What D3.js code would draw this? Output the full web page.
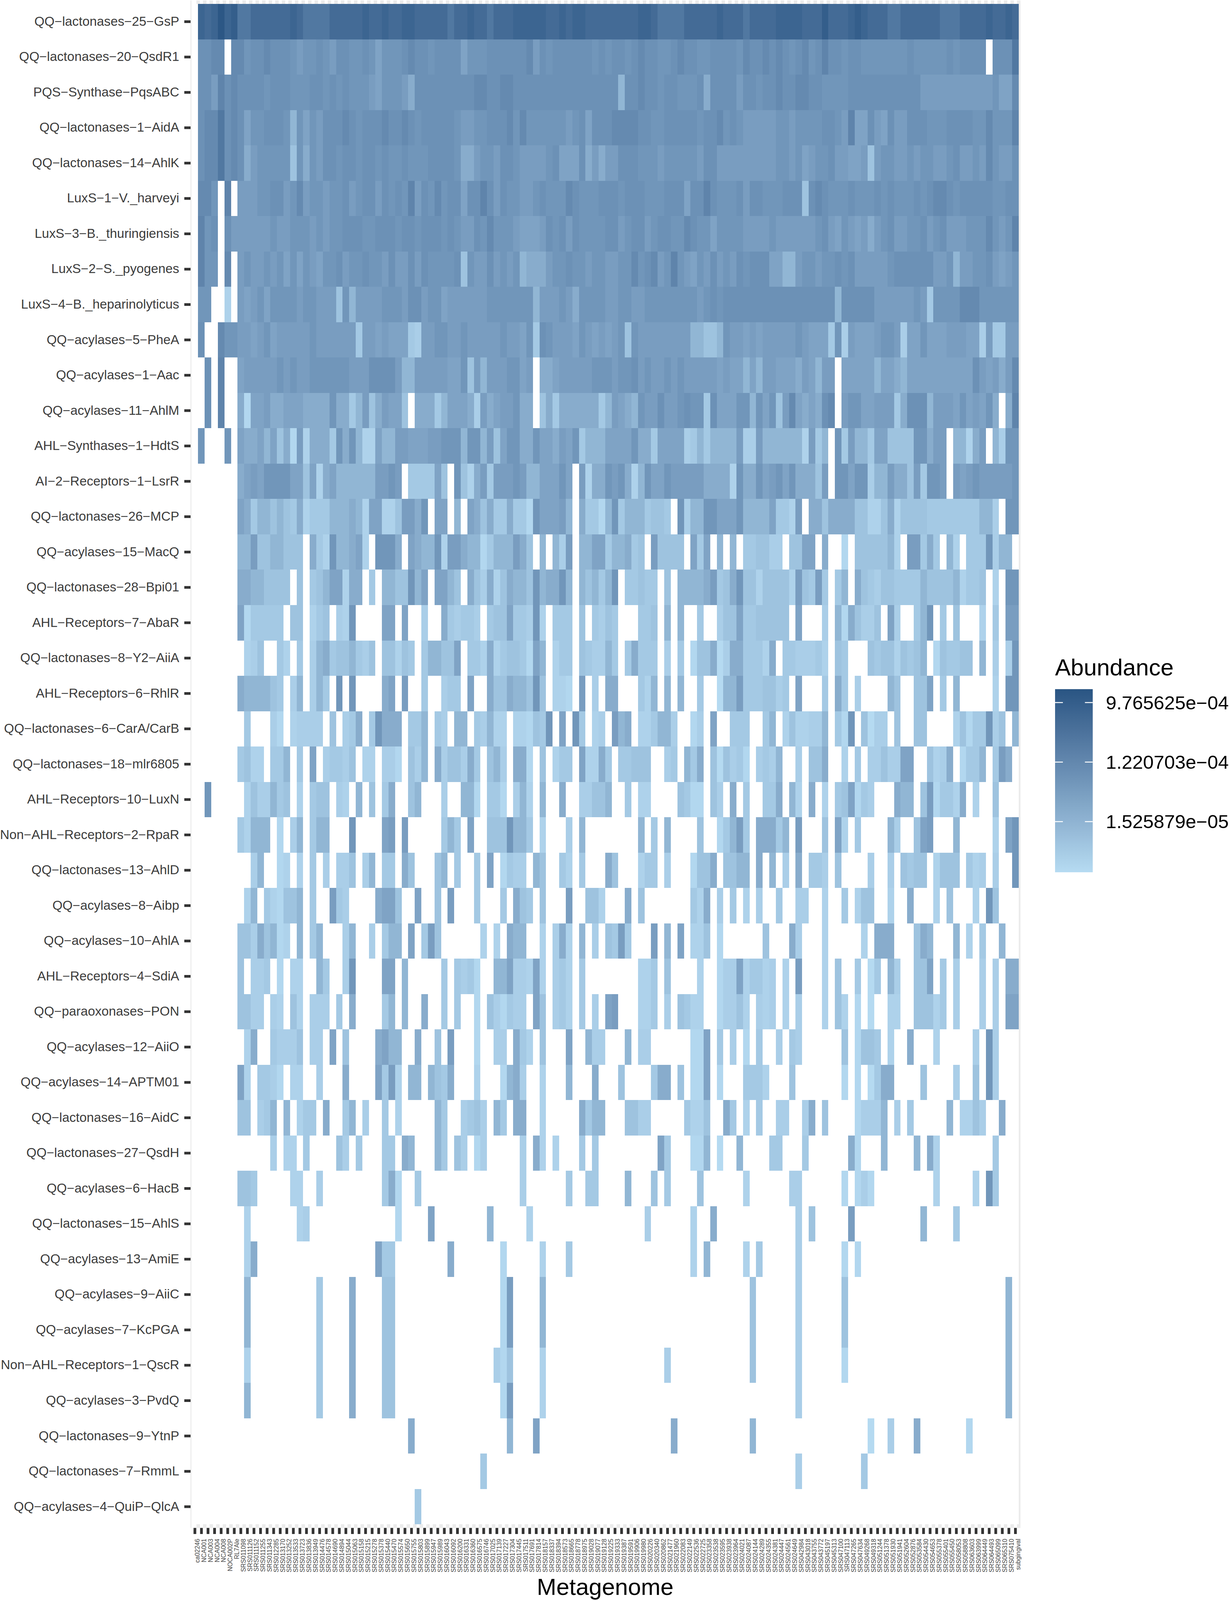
<!DOCTYPE html>
<html>
<head>
<meta charset="utf-8">
<script src="https://cdn.jsdelivr.net/npm/d3@7"></script>
<style>html,body{margin:0;height:100%;overflow:hidden;background:#fff}</style>
</head>
<body>
<div id="chart"></div>
<script>
var rowLabels = ["QQ−lactonases−25−GsP","QQ−lactonases−20−QsdR1","PQS−Synthase−PqsABC","QQ−lactonases−1−AidA","QQ−lactonases−14−AhlK","LuxS−1−V._harveyi","LuxS−3−B._thuringiensis","LuxS−2−S._pyogenes","LuxS−4−B._heparinolyticus","QQ−acylases−5−PheA","QQ−acylases−1−Aac","QQ−acylases−11−AhlM","AHL−Synthases−1−HdtS","AI−2−Receptors−1−LsrR","QQ−lactonases−26−MCP","QQ−acylases−15−MacQ","QQ−lactonases−28−Bpi01","AHL−Receptors−7−AbaR","QQ−lactonases−8−Y2−AiiA","AHL−Receptors−6−RhlR","QQ−lactonases−6−CarA/CarB","QQ−lactonases−18−mlr6805","AHL−Receptors−10−LuxN","Non−AHL−Receptors−2−RpaR","QQ−lactonases−13−AhlD","QQ−acylases−8−Aibp","QQ−acylases−10−AhlA","AHL−Receptors−4−SdiA","QQ−paraoxonases−PON","QQ−acylases−12−AiiO","QQ−acylases−14−APTM01","QQ−lactonases−16−AidC","QQ−lactonases−27−QsdH","QQ−acylases−6−HacB","QQ−lactonases−15−AhlS","QQ−acylases−13−AmiE","QQ−acylases−9−AiiC","QQ−acylases−7−KcPGA","Non−AHL−Receptors−1−QscR","QQ−acylases−3−PvdQ","QQ−lactonases−9−YtnP","QQ−lactonases−7−RmmL","QQ−acylases−4−QuiP−QlcA"];

var sampleLabels = ["ca02246","NCA001","NCA003","NCA004","NCA008","NOCA002P","RL7Ale","SRS011098","SRS011126","SRS011152","SRS011255","SRS011343","SRS012285","SRS013170","SRS013252","SRS013533","SRS013723","SRS013836","SRS013949","SRS014476","SRS014578","SRS014690","SRS014894","SRS015044","SRS015063","SRS015158","SRS015215","SRS015278","SRS015378","SRS015440","SRS015470","SRS015574","SRS015650","SRS015755","SRS015803","SRS015899","SRS015947","SRS015989","SRS016043","SRS016092","SRS016200","SRS016331","SRS016360","SRS016575","SRS016746","SRS017025","SRS017139","SRS017227","SRS017304","SRS017445","SRS017511","SRS017691","SRS017814","SRS018157","SRS018337","SRS018394","SRS018573","SRS018665","SRS018778","SRS018975","SRS019028","SRS019077","SRS019128","SRS019225","SRS019333","SRS019387","SRS019591","SRS019906","SRS019980","SRS020226","SRS020340","SRS020862","SRS021477","SRS021960","SRS022083","SRS022149","SRS022536","SRS022725","SRS023358","SRS023538","SRS023595","SRS023938","SRS023964","SRS024021","SRS024087","SRS024144","SRS024289","SRS024355","SRS024381","SRS024447","SRS024561","SRS024649","SRS042984","SRS043018","SRS043755","SRS043772","SRS045197","SRS045313","SRS047100","SRS047113","SRS047265","SRS047634","SRS049268","SRS049318","SRS051244","SRS051378","SRS051930","SRS051941","SRS052604","SRS052876","SRS053584","SRS054430","SRS054653","SRS055378","SRS055401","SRS055450","SRS058053","SRS058808","SRS063603","SRS063999","SRS064449","SRS064493","SRS065099","SRS065310","SRS075410","subgingival"];

// colour readings per gene and sample, about -2*log2(abundance), 0 = not detected
var levels = [
[0,21,22,21,19,21,20,23,23,22, 22,22,22,22,22,21,22,23,23,23, 23,22,22,22,22,22,21,22,22,21, 22,22,21,21,22,22,22,22,22,23, 22,22,21,22,22,23,22,22,22,21, 21,21,21,21,22,22,21,22,21,21, 22,22,22,22,22,22,22,22,21,21, 22,23,23,23,23,22,22,22,22,22, 21,22,22,22,23,22,22,22,22,21, 21,21,21,22,22,22,20,22,22,22, 21,20,21,22,22,22,23,23,22,22, 22,22,22,22,23,23,23,22,22,22, 22,21,22,22,21,22],
[0,26,26,25,25,0,25,25,27,26, 26,25,26,26,26,27,28,27,27,26, 27,28,26,26,27,27,26,27,29,27, 27,27,26,25,26,26,27,26,26,26, 26,29,27,27,27,26,26,26,26,26, 26,25,28,26,27,26,26,26,26,26, 26,27,26,27,26,26,27,26,25,26, 26,27,27,26,25,26,26,27,27,26, 26,26,26,27,25,26,26,25,26,25, 26,27,26,25,27,26,24,26,26,27, 26,26,27,27,27,27,27,27,27,26, 27,27,27,27,27,26,27,26,26,26, 26,0,26,26,26,23],
[0,26,26,28,24,26,25,26,26,26, 26,27,26,26,26,27,27,27,26,26, 27,26,27,26,27,27,27,28,29,27, 27,27,28,30,26,26,26,26,26,26, 26,26,26,25,25,26,26,25,25,26, 26,26,26,26,26,26,26,26,26,26, 26,26,26,26,26,31,26,26,25,26, 26,27,26,26,27,27,27,26,30,26, 26,26,26,28,26,26,27,26,26,25, 26,26,25,25,26,26,27,27,27,27, 26,26,26,26,26,26,26,26,26,26, 26,28,28,28,28,28,28,28,28,28, 28,28,27,29,29,25],
[0,26,25,25,23,26,25,26,29,27, 27,26,26,26,27,31,27,29,27,28, 26,26,26,25,26,27,26,26,26,25, 26,26,25,26,27,26,26,26,26,26, 27,28,28,27,27,26,26,26,25,27, 25,27,27,27,27,27,27,28,27,26, 29,26,26,26,25,25,25,25,26,26, 27,27,26,26,26,26,26,27,26,26, 25,27,26,27,28,28,28,28,28,27, 27,28,27,27,27,27,26,26,27,28, 24,29,29,26,28,29,26,28,28,26, 26,26,27,27,27,26,26,26,26,27, 27,25,27,27,27,24],
[0,26,25,25,23,26,25,26,30,28, 27,27,27,27,27,32,27,30,27,28, 26,26,27,26,26,27,26,26,27,26, 27,27,26,27,27,27,26,26,26,26, 27,30,30,28,27,27,28,26,26,27, 28,28,28,28,27,26,29,29,29,26, 30,28,30,28,28,26,26,26,27,27, 27,28,27,27,27,27,27,28,26,26, 28,28,28,28,28,28,28,28,28,27, 27,28,27,29,28,27,27,26,28,28, 29,29,28,32,28,27,27,28,28,27, 28,27,27,28,28,27,26,28,28,27, 28,25,27,28,28,26],
[0,25,25,27,0,24,0,28,28,28, 27,27,26,26,28,27,25,28,27,27, 28,27,27,26,28,27,26,26,28,26, 27,26,27,24,28,26,27,25,27,26, 26,29,26,26,24,26,28,26,27,27, 28,28,27,26,27,27,27,25,26,27, 27,27,26,26,26,27,26,26,26,27, 27,27,26,26,26,29,26,26,24,26, 27,27,27,26,28,26,26,27,27,27, 26,26,26,32,26,25,26,27,27,27, 26,27,27,27,26,27,26,27,27,27, 26,27,26,25,25,26,27,26,26,26, 26,26,27,27,26,26],
[0,24,27,26,0,26,28,28,28,28, 28,28,27,28,28,27,27,27,28,27, 28,27,27,26,26,26,27,27,26,26, 26,27,26,26,27,26,26,26,27,26, 27,28,28,26,27,25,27,27,27,28, 29,29,29,28,26,27,26,28,26,27, 27,27,27,26,26,28,27,26,26,28, 27,26,26,27,27,25,26,27,27,29, 27,27,27,27,28,28,28,28,27,28, 28,28,28,28,28,27,26,28,29,27, 28,29,28,30,28,27,26,28,28,27, 27,26,28,27,26,28,28,28,27,27, 27,25,27,28,27,24],
[0,24,27,27,0,25,0,28,27,28, 28,27,28,27,29,27,29,27,28,29, 27,27,26,28,27,27,26,27,27,28, 26,28,28,26,28,26,27,27,27,27, 26,32,27,28,28,26,28,27,28,27, 31,30,30,30,28,27,27,26,27,27, 28,27,27,28,28,27,27,25,27,26, 25,28,27,24,27,28,29,27,28,26, 28,27,28,26,27,26,26,26,29,29, 31,31,28,27,27,28,27,27,26,27, 26,28,28,28,28,28,27,26,26,26, 26,26,26,28,28,27,31,28,28,27, 27,26,28,29,28,27],
[0,27,27,0,0,35,0,28,29,28, 27,29,27,27,27,27,28,27,27,28, 28,28,32,27,31,28,28,28,28,27, 27,27,28,26,26,28,27,27,29,28, 28,28,28,28,28,27,27,27,27,27, 27,27,31,28,28,28,27,28,30,27, 27,27,27,28,28,27,27,28,28,27, 27,27,27,27,27,27,27,28,27,26, 27,26,26,26,26,26,26,26,26,26, 26,26,26,26,26,26,26,26,31,26, 26,26,26,26,28,28,28,28,28,28, 27,28,33,27,27,27,27,25,25,25, 27,27,27,27,27,27],
[0,26,0,0,25,27,27,28,28,29, 28,27,29,28,28,28,28,28,27,28, 28,28,28,28,28,33,28,28,29,28, 29,29,29,33,34,28,28,27,27,28, 28,27,28,28,28,28,28,27,28,28, 29,27,33,26,27,28,28,28,29,27, 28,29,28,29,28,27,32,27,28,28, 28,28,28,28,28,28,31,31,32,32, 31,27,28,28,29,28,29,28,28,28, 28,28,27,28,29,29,29,33,27,34, 28,29,29,29,28,27,27,28,34,29, 29,27,29,29,29,28,28,28,29,29, 34,28,33,33,28,28],
[0,0,26,0,24,0,0,29,28,28, 28,28,28,27,28,27,28,28,27,27, 27,27,27,27,28,28,28,26,26,26, 26,28,31,31,28,28,28,28,28,29, 29,27,32,28,31,28,28,28,27,27, 29,28,0,30,30,29,28,28,28,28, 28,27,27,27,28,27,27,26,28,27, 28,28,27,28,27,28,28,28,28,28, 29,28,29,29,31,29,31,28,28,29, 29,29,30,28,29,31,28,28,0,29, 29,29,29,29,31,29,29,30,31,29, 29,29,29,29,29,29,29,29,29,26, 28,29,28,30,28,25],
[0,0,26,0,24,0,0,30,36,29, 29,28,30,30,29,29,29,30,30,30, 30,27,30,30,33,31,28,32,30,28, 29,29,32,0,30,30,30,33,31,29, 29,29,30,34,28,30,29,28,28,27, 30,30,0,32,30,33,30,30,30,30, 30,30,33,31,28,29,30,31,27,28, 28,26,28,28,27,26,27,27,33,26, 29,29,29,27,27,31,27,29,27,32, 28,25,29,30,29,30,26,25,0,28, 27,27,29,29,28,28,28,33,30,26, 26,26,31,28,28,28,29,27,29,28, 29,27,30,0,30,24],
{1:26,5:26,7:29,8:30,9:30,10:29,11:31,12:29,13:32,14:30,15:36,16:28,17:35,18:30,19:30,20:30,21:33,22:27,23:30,24:26,25:31,26:35,27:35,28:29,29:31,30:31,31:28,32:28,33:29,34:29,35:29,36:28,37:28,38:27,39:27,40:27,41:31,42:26,43:26,44:31,45:28,46:32,47:29,48:27,49:27,50:30,51:30,52:27,53:29,54:29,55:30,56:28,57:29,58:27,59:33,60:31,61:31,62:31,63:29,64:29,65:29,66:29,67:26,68:30,69:30,70:33,71:29,72:29,73:29,74:29,75:34,76:33,77:31,78:33,79:31,80:31,81:31,82:31,83:28,84:34,85:34,86:28,87:31,88:31,89:31,90:31,91:31,92:31,93:35,94:28,95:33,96:31,98:26,99:33,100:28,101:31,102:31,103:33,104:29,105:29,106:32,107:32,108:32,109:32,110:27,111:27,112:30,113:28,114:28,116:31,117:31,118:35,119:30,120:28,122:31,123:34,124:25,125:27},
{7:30,8:29,9:28,10:29,11:25,12:27,13:27,14:27,15:29,16:29,17:32,18:29,19:35,20:30,21:29,22:31,23:31,24:31,25:31,26:31,27:31,28:28,29:28,30:25,31:28,33:33,34:33,35:33,36:33,37:29,38:32,40:27,41:32,42:35,43:30,44:28,45:33,46:28,47:28,48:28,49:26,50:28,51:31,52:31,53:29,54:29,55:29,56:27,57:29,59:28,60:35,61:30,62:30,63:25,64:28,65:25,66:30,67:35,68:31,69:27,70:29,71:29,72:26,73:28,74:28,75:28,76:28,77:28,78:30,79:30,80:30,81:30,82:35,83:27,84:30,85:30,86:25,87:29,88:28,89:27,90:29,91:25,92:30,93:30,94:30,95:32,96:28,98:25,99:25,100:29,101:26,102:26,103:34,104:31,105:31,106:28,107:30,108:30,109:32,110:28,111:33,112:27,113:27,114:28,116:28,117:29,118:28,119:27,120:28,121:28,122:28,123:28,124:28,125:24},
{7:29,8:30,9:33,10:31,11:31,12:32,13:31,14:32,15:33,16:30,17:35,18:33,19:33,20:33,21:31,22:31,23:31,24:30,25:31,26:35,27:29,28:29,29:35,30:35,31:32,32:28,33:28,34:30,35:27,37:29,38:29,40:31,42:29,43:30,44:32,45:30,46:33,47:33,48:30,49:33,50:33,51:36,52:27,53:29,54:29,55:29,56:28,57:31,59:30,60:33,61:33,62:36,63:31,64:27,65:33,66:31,67:31,68:31,69:33,70:32,71:32,72:33,74:26,75:34,76:31,77:31,78:27,79:27,80:29,81:29,82:29,83:27,84:31,85:31,86:31,87:31,88:29,89:33,90:33,91:35,92:28,94:30,95:30,96:32,97:30,98:30,99:30,100:30,101:32,102:32,103:35,104:35,105:32,106:30,107:35,108:32,109:32,110:32,111:32,112:33,113:33,114:33,115:33,116:33,117:33,118:33,119:33,120:31,121:31,122:34,124:26,125:26},
{7:31,8:31,9:28,10:32,11:32,12:31,13:31,14:32,15:32,16:32,18:30,19:33,20:35,21:27,22:31,23:31,24:30,25:29,26:35,28:26,29:27,30:27,31:30,33:29,34:30,35:31,36:31,37:27,38:35,39:28,40:28,41:30,42:31,43:31,44:36,45:33,46:31,47:31,48:31,49:28,50:30,51:32,53:31,55:31,56:34,57:28,59:31,60:31,61:29,62:29,63:33,64:31,65:31,66:30,67:33,68:32,70:28,71:32,72:32,73:32,74:32,76:29,77:33,78:29,80:31,82:31,84:33,85:33,86:32,87:32,88:34,89:34,91:32,92:32,93:29,94:29,96:30,99:36,101:32,102:32,103:32,104:32,105:32,106:31,107:35,109:28,110:28,111:33,112:30,113:33,115:31,116:35,118:33,119:33,120:33,121:27,122:34,123:31,124:31},
{7:30,8:30,9:31,10:31,11:32,12:32,13:32,14:32,16:32,18:33,19:32,20:31,21:29,22:29,23:35,24:30,25:30,27:33,29:31,30:31,31:32,32:32,33:27,34:31,35:29,37:29,38:29,39:31,40:32,42:30,43:32,44:34,45:30,46:35,47:32,48:30,49:31,50:31,51:32,52:26,53:31,54:30,55:30,56:26,57:31,59:31,60:32,61:31,62:33,63:31,64:26,66:33,67:33,68:32,69:33,70:33,72:32,74:31,75:31,76:31,77:31,78:30,79:28,80:33,81:32,82:30,83:27,84:32,85:32,86:35,87:32,88:32,89:32,90:32,91:35,92:28,93:32,94:33,95:28,96:33,98:33,99:31,101:30,102:32,103:33,104:34,105:32,106:32,107:33,108:33,109:33,110:33,111:31,112:32,113:32,114:32,115:32,116:31,117:35,118:33,119:33,120:32,122:35,124:26,125:26},
{7:29,8:36,9:33,10:33,11:33,12:33,13:33,15:32,16:32,18:35,19:33,20:32,22:34,23:35,24:26,29:29,30:29,32:29,35:34,38:30,39:33,40:34,41:33,42:33,43:34,45:33,46:32,47:32,48:29,49:33,50:33,51:34,52:27,53:35,55:33,56:33,57:33,59:32,61:33,62:34,63:32,64:33,68:33,69:33,70:32,72:31,74:31,77:33,80:34,81:32,82:32,83:29,84:33,85:33,86:32,87:32,88:32,89:32,90:32,92:29,96:34,98:31,99:36,100:30,101:32,102:34,103:34,104:32,106:29,107:34,110:33,111:31,112:25,114:33,116:32,120:35,122:33,124:28,125:28},
{8:35,9:34,10:32,13:33,14:35,16:33,18:34,19:31,20:30,21:33,22:32,23:32,24:31,25:33,26:34,27:32,29:32,30:32,31:35,32:32,33:33,35:33,36:31,37:31,38:32,39:32,40:29,42:33,43:33,44:35,45:30,46:35,47:33,48:32,49:32,50:33,51:36,52:29,53:31,55:35,56:33,57:33,59:32,60:33,61:34,62:34,63:31,64:33,66:33,67:30,68:33,69:33,70:33,72:34,74:33,76:36,77:32,78:32,79:30,80:37,81:34,82:30,83:30,84:33,85:33,86:33,87:35,88:30,90:33,91:33,92:34,93:34,94:34,95:33,96:35,98:32,99:33,103:32,104:33,105:32,106:32,107:35,108:32,109:33,110:32,111:31,113:36,114:32,115:33,116:33,117:32,118:32,120:31,122:34,124:34,125:26},
{7:30,8:31,9:31,10:31,11:31,12:32,13:33,15:34,16:31,18:34,19:31,20:33,22:27,24:26,29:30,30:29,32:28,35:33,38:34,39:33,40:33,42:29,45:30,46:32,47:32,48:30,49:31,50:31,51:32,52:26,53:32,55:35,56:35,57:36,59:28,61:34,63:30,64:30,68:33,69:35,70:31,72:31,74:31,77:33,80:37,81:31,82:31,83:28,84:33,85:33,86:33,87:32,88:32,89:34,90:33,92:29,96:33,98:30,99:33,101:34,106:31,107:32,110:32,111:32,112:29,114:33,116:31,122:35,124:27,125:27},
{8:33,12:34,13:36,15:35,16:34,17:34,18:34,19:34,21:32,23:34,24:33,25:30,27:33,28:27,29:30,30:30,31:30,33:33,34:33,35:31,37:33,38:34,40:31,41:31,43:33,44:34,45:31,46:35,47:35,49:35,50:35,51:36,52:32,53:33,54:27,56:29,58:27,59:33,61:35,62:34,64:28,65:31,66:30,68:35,69:35,70:33,71:31,72:31,73:34,76:36,77:34,79:29,82:33,83:33,84:33,87:33,88:31,90:35,91:32,92:35,93:35,94:34,95:34,96:31,98:33,99:36,100:27,102:32,103:37,104:34,105:34,107:32,110:32,111:32,116:35,117:32,118:36,119:33,120:33,121:27,122:34,123:32,125:31},
{7:33,8:32,9:35,10:35,12:33,13:33,14:31,16:33,18:29,20:34,21:33,22:33,23:34,24:32,26:35,27:35,29:34,30:34,31:36,33:32,34:34,35:31,37:30,38:34,39:32,40:32,41:34,42:30,43:33,45:32,46:31,47:34,49:30,50:30,51:36,53:32,55:35,56:33,57:33,59:29,60:35,61:35,62:30,63:33,65:33,66:33,67:32,68:32,69:32,72:34,73:33,75:31,76:33,77:30,79:32,80:37,81:32,82:34,83:33,84:36,86:34,87:33,88:34,89:31,92:34,94:32,95:32,96:30,99:35,101:33,103:34,104:34,105:32,106:34,107:34,108:29,109:29,112:32,113:35,114:34,115:30,117:36,118:33,119:33,120:31,122:33,123:28,124:30},
{2:25,8:35,9:32,10:34,11:34,12:31,13:33,14:32,16:35,18:33,19:32,20:32,22:34,23:35,25:31,27:32,29:33,30:30,33:32,34:31,38:34,41:31,42:31,43:36,45:33,46:33,47:36,49:34,50:31,51:35,53:31,56:30,59:34,60:34,61:32,62:32,63:31,66:33,68:35,69:35,74:32,75:33,76:36,77:36,79:32,80:34,82:30,84:33,87:33,88:33,89:30,91:31,92:35,94:30,96:35,98:33,99:32,100:29,101:36,102:33,103:34,107:30,108:31,109:31,111:32,112:28,113:36,114:33,115:33,116:35,117:30,119:35,122:32},
{7:33,8:35,9:31,10:31,11:31,13:36,15:34,16:31,18:33,19:31,20:31,24:26,29:29,30:28,32:28,38:33,39:31,40:33,42:29,45:32,46:32,47:32,48:27,49:31,50:31,51:33,53:35,57:34,59:31,68:31,70:33,72:31,77:32,80:36,81:33,82:31,83:28,84:33,86:30,87:30,88:30,89:33,90:31,92:28,96:32,98:29,99:35,101:33,106:31,107:34,110:32,111:29,112:28,116:31,122:35,124:29,125:27},
{9:34,10:31,13:36,14:35,16:35,18:33,20:34,22:34,23:34,24:32,26:34,27:31,29:33,30:33,32:30,33:32,37:32,38:31,40:33,43:33,45:29,47:36,48:33,49:34,50:34,52:31,53:32,56:33,57:35,59:33,63:30,64:32,68:35,69:33,70:33,72:34,76:36,77:32,78:32,79:30,81:32,82:32,83:31,84:31,86:30,88:31,90:34,92:30,94:33,95:33,96:34,98:32,103:34,106:34,108:32,109:33,110:32,111:32,113:35,114:32,115:32,116:32,118:33,119:35,120:34,122:34,125:26},
{8:35,9:31,11:33,12:35,13:36,14:32,15:32,16:31,18:33,21:28,22:33,23:34,28:30,29:29,30:29,31:32,34:29,37:32,39:28,43:33,47:33,49:30,50:32,51:33,53:32,57:28,60:32,61:32,62:35,66:30,68:32,76:33,77:35,78:30,80:34,82:33,84:35,86:34,89:33,92:34,93:34,96:35,99:33,101:35,102:32,103:32,106:35,109:30,113:35,115:32,119:35,121:27,122:32},
{7:32,8:32,9:34,10:30,11:32,12:31,13:36,14:35,16:31,18:33,19:31,23:34,24:31,27:34,29:33,30:31,31:31,33:29,35:33,36:28,37:32,44:35,46:35,48:30,49:31,50:31,53:35,55:34,56:30,57:35,59:31,61:34,63:32,64:33,65:28,66:33,70:28,72:31,74:29,76:35,77:35,78:32,80:36,87:32,91:30,92:34,96:35,102:35,104:30,105:30,106:30,110:32,111:30,112:31,116:31,118:35,120:33,123:31},
{7:32,9:34,10:34,11:33,13:36,15:35,16:35,19:31,20:33,23:34,24:27,29:29,30:29,32:31,38:33,40:33,41:34,42:33,43:36,46:31,47:31,48:29,49:34,50:34,51:35,52:29,53:35,55:34,56:33,57:35,59:33,68:35,69:35,70:33,72:32,77:35,80:36,81:34,82:34,83:29,84:35,85:33,86:33,87:35,88:34,90:35,92:28,96:35,98:32,101:33,103:37,104:33,106:31,107:34,110:32,111:32,112:29,114:33,116:34,120:34,122:34,124:30,125:30},
{7:32,8:32,9:34,10:34,12:34,13:35,15:32,16:35,18:34,19:34,20:34,22:33,24:30,29:33,30:31,32:31,35:30,38:33,40:33,43:36,45:32,46:34,47:36,48:33,49:34,50:34,52:29,53:32,55:34,56:33,57:35,59:33,61:34,63:29,64:28,68:35,69:35,70:33,72:34,74:32,75:33,76:35,77:35,80:36,81:34,82:34,83:32,84:35,86:34,87:35,88:34,90:35,92:34,96:35,98:32,99:35,101:36,103:37,106:35,107:35,110:32,111:32,112:32,113:35,114:33,116:34,120:34,122:34,124:29,125:29},
{8:35,9:30,12:33,13:34,14:34,15:34,16:32,18:34,19:34,21:29,23:32,28:30,29:29,30:31,31:31,34:30,37:32,39:28,43:36,46:34,47:34,49:30,50:33,51:35,53:32,57:29,60:31,61:34,62:34,66:31,68:34,69:34,76:36,77:36,78:29,80:33,82:34,84:36,86:33,89:34,91:33,92:34,99:32,101:36,102:32,103:32,104:33,106:35,109:30,113:35,119:34,121:25,122:34},
{7:29,8:35,10:33,11:33,12:34,13:36,15:35,16:35,19:34,23:30,28:29,29:33,30:28,31:35,33:31,34:31,36:31,37:32,38:33,39:30,43:35,47:36,48:31,49:30,50:34,53:35,57:31,61:30,65:32,70:33,71:30,72:30,74:32,76:36,77:36,78:29,80:36,84:33,85:33,86:33,87:35,91:32,99:36,101:36,103:37,104:33,105:30,106:30,111:32,116:34,119:32,121:27,122:34},
{7:32,8:32,10:34,11:33,12:31,14:31,16:35,17:33,18:33,20:30,23:33,24:31,26:34,29:33,31:35,37:31,38:33,41:34,42:33,43:32,44:34,46:31,47:33,49:30,50:30,53:35,59:30,60:33,61:31,62:31,66:32,67:32,68:34,69:34,75:33,76:35,77:35,78:32,81:30,82:33,84:35,86:33,89:34,90:34,93:34,94:30,96:32,101:36,102:34,103:34,104:34,105:31,107:34,109:33,115:31,117:35,118:35,119:32,120:34,123:30},
{12:34,14:35,15:35,17:33,22:32,23:34,25:33,29:33,30:33,32:30,33:31,37:31,38:33,40:32,41:34,43:36,44:34,50:34,52:30,53:35,55:35,59:33,61:33,71:29,72:33,76:36,77:36,78:31,80:37,83:31,88:33,89:33,93:33,100:30,101:36,105:31,110:31,112:30,113:35,122:33},
{7:32,8:32,9:33,15:35,16:35,19:34,29:33,30:30,31:36,34:33,50:34,57:33,60:33,61:33,66:31,70:32,72:33,77:32,84:35,91:34,92:34,99:36,101:36,102:34,103:36,113:35,119:35,121:27,122:33},
{8:35,16:35,17:34,31:36,36:29,45:31,51:35,69:34,76:35,79:30,92:34,94:32,100:28,111:31,116:33},
{8:35,9:30,28:29,29:33,30:33,39:30,47:36,53:35,57:33,76:35,78:31,84:35,86:33,92:34,99:36,101:36},
{8:31,19:33,24:30,29:32,30:32,47:36,48:28,53:31,85:32,92:34,99:32,124:31},
{8:31,19:33,24:30,29:32,30:32,47:36,48:28,53:31,85:32,92:34,99:32,124:31},
{8:35,19:33,24:30,29:32,30:32,46:34,47:36,48:32,53:35,72:34,85:32,92:34,99:36,124:31},
{8:31,19:33,24:30,29:32,30:32,47:36,48:28,53:35,92:34,124:31},
{33:30,48:31,52:29,73:30,85:31,103:37,106:34,110:30,118:36},
{44:33,92:34,102:33},
{34:33}
];

var legendTicks = [9.765625e-4, 1.220703e-4, 1.525879e-5];
var legendLabels = ["9.765625e−04", "1.220703e−04", "1.525879e−05"];
var fillLimits = [2.6e-6, 1.56e-3];

// my colour readings came out too dark, this pulls them back to the legend
var readingCorrection = d3.scaleLinear()
	.domain([19,22,24,26,27,28,29,30,31,32,33,34,35,36,37])
	.range([19,22,25.5,27.3,28,29,29.8,31,32.3,34,34.8,35.5,36,36.6,37]);

var w = 3150, h = 4206;
var panel = {left: 489, right: 2610.6, top: 1.2, bottom: 4016.5};
var font = "'Liberation Sans', Arial, sans-serif";

// the drawing keeps reference coordinates and is fitted to the window
var svg = d3.select("#chart").append("svg")
	.attr("viewBox", "0 0 " + w + " " + h)
	.attr("preserveAspectRatio", "none")
	.attr("width", window.innerWidth)
	.attr("height", window.innerHeight)
	.style("display", "block")
	.attr("font-family", font);

var x = d3.scaleBand().domain(sampleLabels).range([panel.left, panel.right]).paddingInner(0).paddingOuter(0.1);
var y = d3.scaleBand().domain(rowLabels).range([panel.top, panel.bottom]).paddingInner(0).paddingOuter(0.1);

var color = d3.scaleLog().base(2)
	.domain(fillLimits)
	.range(["#b6dbf2", "#295583"])
	.interpolate(d3.interpolateLab);

// light stripes that show past the tiles
svg.append("g").selectAll("line")
	.data(sampleLabels)
	.enter()
	.append("line")
	.attr("x1", function(d) {return x(d) + x.step();})
	.attr("x2", function(d) {return x(d) + x.step();})
	.attr("y1", panel.top)
	.attr("y2", panel.bottom)
	.attr("stroke", "#ebebeb")
	.attr("stroke-width", 9);

// tiles, white when nothing was detected
var cells = [];
rowLabels.forEach(function(row, r) {
	sampleLabels.forEach(function(sample, c) {
		var l = levels[r][c];
		var a = null;
		if (l) {
			var v = readingCorrection(l);
			if (r >= 12) v = Math.max(v, 28);
			a = Math.pow(2, -v / 2);
		}
		cells.push({row: row, sample: sample, abundance: a});
	});
});

svg.append("g").selectAll("rect")
	.data(cells)
	.enter()
	.append("rect")
	.attr("x", function(d) {return x(d.sample);})
	.attr("y", function(d) {return y(d.row);})
	.attr("width", x.bandwidth())
	.attr("height", y.bandwidth())
	.attr("shape-rendering", "crispEdges")
	.attr("fill", function(d) {return d.abundance === null ? "#fff" : color(d.abundance);});

// panel sides
[panel.left, panel.right].forEach(function(px) {
	svg.append("line")
		.attr("x1", px).attr("x2", px)
		.attr("y1", panel.top).attr("y2", panel.bottom)
		.attr("stroke", "#ebebeb")
		.attr("stroke-width", 2.5);
});

// axes
var yAxis = svg.append("g")
	.attr("transform", "translate(" + (panel.left - 1) + ",0)")
	.call(d3.axisLeft(y).tickSize(16).tickPadding(13).offset(0));
yAxis.select(".domain").remove();
yAxis.attr("font-family", font);
yAxis.selectAll("line").attr("stroke", "#333").attr("stroke-width", 7);
yAxis.selectAll("text").attr("font-size", 33.3).attr("fill", "#3c3c3c");

var xAxis = svg.append("g")
	.attr("transform", "translate(0," + panel.bottom + ")")
	.call(d3.axisBottom(x).tickSize(16).offset(0));
xAxis.select(".domain").remove();
xAxis.attr("font-family", font);
xAxis.selectAll("line").attr("stroke", "#333").attr("stroke-width", 7);
xAxis.selectAll("text")
	.attr("transform", "rotate(-90)")
	.attr("text-anchor", "end")
	.attr("x", -28.5)
	.attr("y", 12)
	.attr("dy", 0)
	.attr("font-size", 16.4)
	.attr("fill", "#444");

svg.append("text")
	.attr("x", (panel.left + panel.right) / 2)
	.attr("y", 4193)
	.attr("text-anchor", "middle")
	.attr("font-size", 60)
	.text("Metagenome");

// legend
var bar = {x: 2702, w: 96.5, top: 1811.6, bottom: 2293};
var legendY = d3.scaleLog().base(2).domain([fillLimits[1], fillLimits[0]]).range([bar.top, bar.bottom]);

svg.append("text")
	.attr("x", bar.x)
	.attr("y", 1775)
	.attr("font-size", 60)
	.text("Abundance");

var grad = svg.append("defs").append("linearGradient")
	.attr("id", "bar")
	.attr("x1", 0).attr("x2", 0).attr("y1", 0).attr("y2", 1);
d3.range(0, 21).forEach(function(i) {
	grad.append("stop")
		.attr("offset", (i * 5) + "%")
		.attr("stop-color", color(legendY.invert(bar.top + (bar.bottom - bar.top) * i / 20)));
});

svg.append("rect")
	.attr("x", bar.x)
	.attr("y", bar.top)
	.attr("width", bar.w)
	.attr("height", bar.bottom - bar.top)
	.attr("fill", "url(#bar)");

legendTicks.forEach(function(t, i) {
	var ty = legendY(t);
	svg.append("line").attr("x1", bar.x).attr("x2", bar.x + 20).attr("y1", ty).attr("y2", ty)
		.attr("stroke", "#fff").attr("stroke-width", 2.5);
	svg.append("line").attr("x1", bar.x + bar.w - 20).attr("x2", bar.x + bar.w).attr("y1", ty).attr("y2", ty)
		.attr("stroke", "#fff").attr("stroke-width", 2.5);
	svg.append("text")
		.attr("x", 2832)
		.attr("y", ty + 17.5)
		.attr("font-size", 49)
		.text(legendLabels[i]);
});
</script>
</body>
</html>
